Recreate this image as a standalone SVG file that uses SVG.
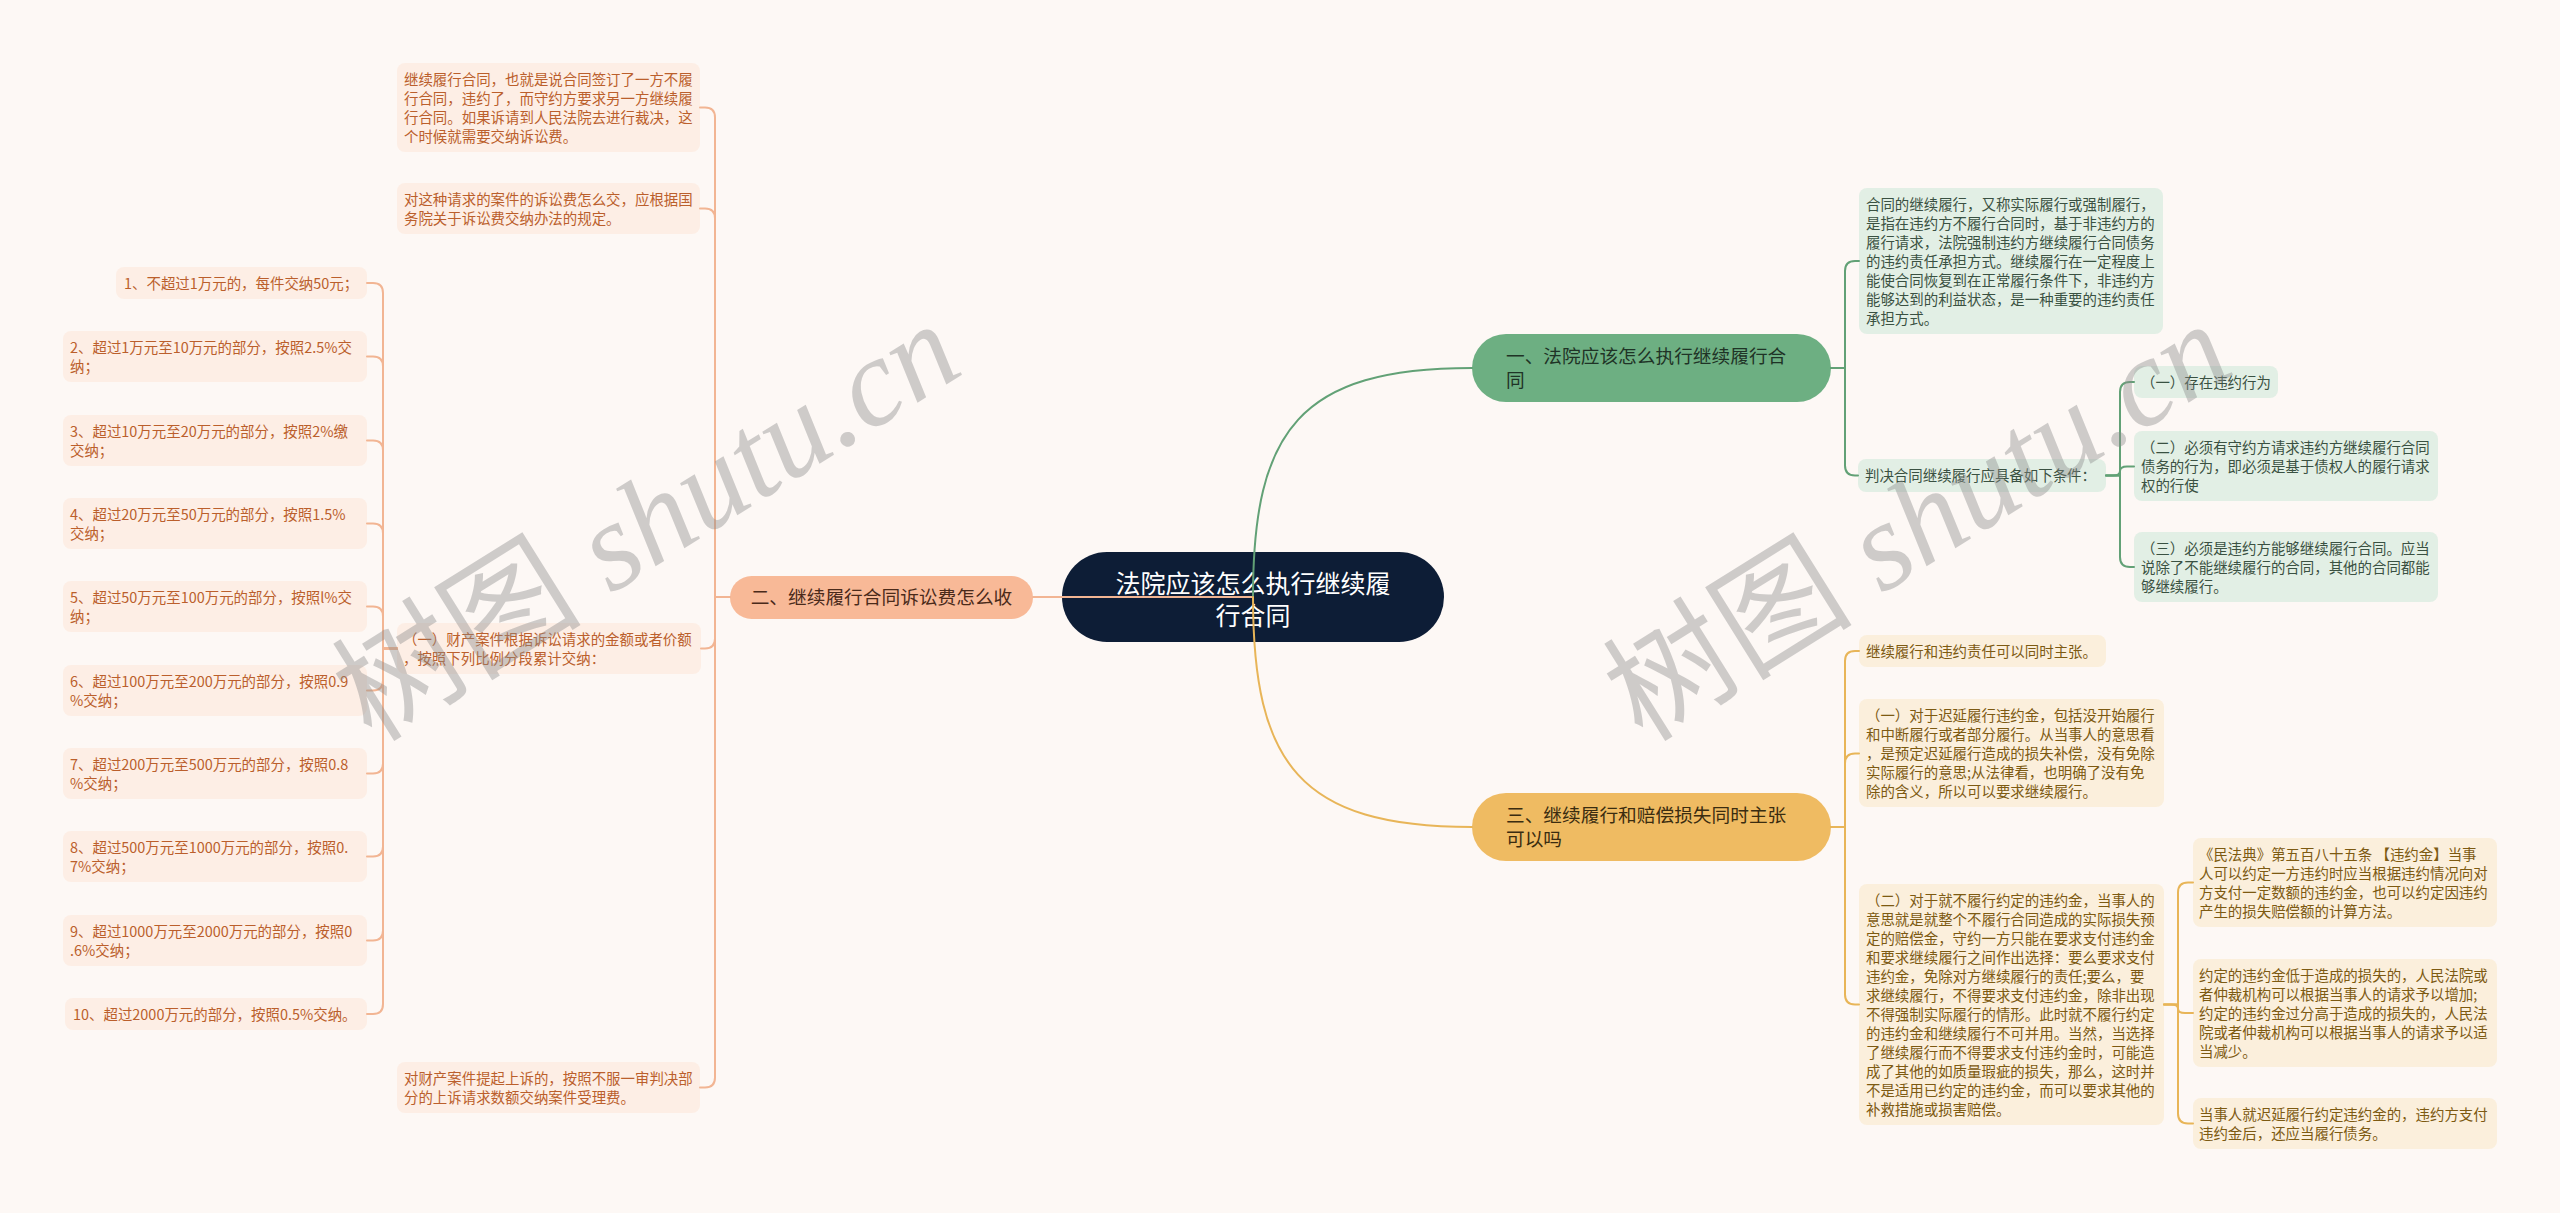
<svg xmlns="http://www.w3.org/2000/svg" width="2560" height="1213" viewBox="0 0 2560 1213">
<style>
.t{font-family:"Noto Sans CJK SC","Noto Sans",sans-serif;font-size:14.45px}
.bt{font-family:"Noto Sans CJK SC","Noto Sans",sans-serif;font-size:18.7px}
.rt{font-family:"Noto Sans CJK SC","Noto Sans",sans-serif;font-size:25px;fill:#ffffff}
.lp{fill:#fdeee5}.tp{fill:#bb5f2c}
.lg{fill:#e2efe5}.tg{fill:#3a5142}
.ly{fill:#fbefdc}.ty{fill:#7d5a12}
.c{fill:none;stroke-width:2;stroke-linecap:round}
.cp{stroke:#f2b593}.cg{stroke:#62a176}.cy{stroke:#e8b558}
.wm{font-size:125px;fill:#8a8a8a;opacity:0.4}
</style>
<rect width="2560" height="1213" fill="#fdf8f5"/>

<g id="root">
<rect x="1062" y="552" width="382" height="90" rx="45" fill="#0d1d36"/>
<text class="rt" text-anchor="middle"><tspan x="1253" y="592.5">法院应该怎么执行继续履</tspan><tspan x="1253" y="624.5">行合同</tspan></text>
</g>

<g id="b1">
<rect x="1472" y="334" width="359" height="68" rx="34" fill="#6daf82"/>
<text class="bt" fill="#1f3326"><tspan x="1506" y="363">一、法院应该怎么执行继续履行合</tspan><tspan x="1506" y="387">同</tspan></text>
</g>
<g id="b2">
<rect x="730" y="576" width="303" height="43" rx="21.5" fill="#f8b997"/>
<text class="bt" fill="#4a2a1a" text-anchor="middle" x="881.5" y="604">二、继续履行合同诉讼费怎么收</text>
</g>
<g id="b3">
<rect x="1472" y="793" width="359" height="68" rx="34" fill="#efbb62"/>
<text class="bt" fill="#3a2c10"><tspan x="1506" y="822">三、继续履行和赔偿损失同时主张</tspan><tspan x="1506" y="846">可以吗</tspan></text>
</g>

<g id="L1"><rect class="lp" x="397" y="63" width="303" height="89" rx="8"/>
<text class="t tp"><tspan x="404" y="84.5">继续履行合同，也就是说合同签订了一方不履</tspan><tspan x="404" y="103.5">行合同，违约了，而守约方要求另一方继续履</tspan><tspan x="404" y="122.5">行合同。如果诉请到人民法院去进行裁决，这</tspan><tspan x="404" y="141.5">个时候就需要交纳诉讼费。</tspan></text></g>
<g id="L2"><rect class="lp" x="397" y="183" width="303" height="51" rx="8"/>
<text class="t tp"><tspan x="404" y="204.5">对这种请求的案件的诉讼费怎么交，应根据国</tspan><tspan x="404" y="223.5">务院关于诉讼费交纳办法的规定。</tspan></text></g>
<g id="L3"><rect class="lp" x="397" y="623" width="304" height="51" rx="8"/>
<text class="t tp"><tspan x="403" y="644.5">（一）财产案件根据诉讼请求的金额或者价额</tspan><tspan x="403" y="663.5">，按照下列比例分段累计交纳：</tspan></text></g>
<g id="L4"><rect class="lp" x="397" y="1062" width="303" height="51" rx="8"/>
<text class="t tp"><tspan x="404" y="1083.5">对财产案件提起上诉的，按照不服一审判决部</tspan><tspan x="404" y="1102.5">分的上诉请求数额交纳案件受理费。</tspan></text></g>

<g id="i1"><rect class="lp" x="116" y="267" width="251" height="32" rx="8"/>
<text class="t tp" x="124" y="288.5">1、不超过1万元的，每件交纳50元；</text></g>
<g id="i2"><rect class="lp" x="63" y="331" width="304" height="51" rx="8"/>
<text class="t tp"><tspan x="70" y="352.5">2、超过1万元至10万元的部分，按照2.5%交</tspan><tspan x="70" y="371.5">纳；</tspan></text></g>
<g id="i3"><rect class="lp" x="63" y="415" width="304" height="51" rx="8"/>
<text class="t tp"><tspan x="70" y="436.5">3、超过10万元至20万元的部分，按照2%缴</tspan><tspan x="70" y="455.5">交纳；</tspan></text></g>
<g id="i4"><rect class="lp" x="63" y="498" width="304" height="51" rx="8"/>
<text class="t tp"><tspan x="70" y="519.5">4、超过20万元至50万元的部分，按照1.5%</tspan><tspan x="70" y="538.5">交纳；</tspan></text></g>
<g id="i5"><rect class="lp" x="63" y="581" width="304" height="51" rx="8"/>
<text class="t tp"><tspan x="70" y="602.5">5、超过50万元至100万元的部分，按照l%交</tspan><tspan x="70" y="621.5">纳；</tspan></text></g>
<g id="i6"><rect class="lp" x="63" y="665" width="304" height="51" rx="8"/>
<text class="t tp"><tspan x="70" y="686.5">6、超过100万元至200万元的部分，按照0.9</tspan><tspan x="70" y="705.5">%交纳；</tspan></text></g>
<g id="i7"><rect class="lp" x="63" y="748" width="304" height="51" rx="8"/>
<text class="t tp"><tspan x="70" y="769.5">7、超过200万元至500万元的部分，按照0.8</tspan><tspan x="70" y="788.5">%交纳；</tspan></text></g>
<g id="i8"><rect class="lp" x="63" y="831" width="304" height="51" rx="8"/>
<text class="t tp"><tspan x="70" y="852.5">8、超过500万元至1000万元的部分，按照0.</tspan><tspan x="70" y="871.5">7%交纳；</tspan></text></g>
<g id="i9"><rect class="lp" x="63" y="915" width="304" height="51" rx="8"/>
<text class="t tp"><tspan x="70" y="936.5">9、超过1000万元至2000万元的部分，按照0</tspan><tspan x="70" y="955.5">.6%交纳；</tspan></text></g>
<g id="i10"><rect class="lp" x="65" y="998" width="302" height="32" rx="8"/>
<text class="t tp" x="73" y="1019.5">10、超过2000万元的部分，按照0.5%交纳。</text></g>

<g id="g1"><rect class="lg" x="1859" y="188" width="304" height="146" rx="8"/>
<text class="t tg"><tspan x="1866" y="209.5">合同的继续履行，又称实际履行或强制履行，</tspan><tspan x="1866" y="228.5">是指在违约方不履行合同时，基于非违约方的</tspan><tspan x="1866" y="247.5">履行请求，法院强制违约方继续履行合同债务</tspan><tspan x="1866" y="266.5">的违约责任承担方式。继续履行在一定程度上</tspan><tspan x="1866" y="285.5">能使合同恢复到在正常履行条件下，非违约方</tspan><tspan x="1866" y="304.5">能够达到的利益状态，是一种重要的违约责任</tspan><tspan x="1866" y="323.5">承担方式。</tspan></text></g>
<g id="g2"><rect class="lg" x="1858" y="459" width="248" height="33" rx="8"/>
<text class="t tg" x="1865" y="480.5">判决合同继续履行应具备如下条件：</text></g>
<g id="g3"><rect class="lg" x="2134" y="366" width="144" height="32" rx="8"/>
<text class="t tg" x="2141" y="387.5">（一）存在违约行为</text></g>
<g id="g4"><rect class="lg" x="2134" y="431" width="304" height="70" rx="8"/>
<text class="t tg"><tspan x="2141" y="452.5">（二）必须有守约方请求违约方继续履行合同</tspan><tspan x="2141" y="471.5">债务的行为，即必须是基于债权人的履行请求</tspan><tspan x="2141" y="490.5">权的行使</tspan></text></g>
<g id="g5"><rect class="lg" x="2134" y="532" width="304" height="70" rx="8"/>
<text class="t tg"><tspan x="2141" y="553.5">（三）必须是违约方能够继续履行合同。应当</tspan><tspan x="2141" y="572.5">说除了不能继续履行的合同，其他的合同都能</tspan><tspan x="2141" y="591.5">够继续履行。</tspan></text></g>

<g id="y1"><rect class="ly" x="1859" y="635" width="247" height="32" rx="8"/>
<text class="t ty" x="1866" y="656.5">继续履行和违约责任可以同时主张。</text></g>
<g id="y2"><rect class="ly" x="1859" y="699" width="305" height="108" rx="8"/>
<text class="t ty"><tspan x="1866" y="720.5">（一）对于迟延履行违约金，包括没开始履行</tspan><tspan x="1866" y="739.5">和中断履行或者部分履行。从当事人的意思看</tspan><tspan x="1866" y="758.5">，是预定迟延履行造成的损失补偿，没有免除</tspan><tspan x="1866" y="777.5">实际履行的意思;从法律看，也明确了没有免</tspan><tspan x="1866" y="796.5">除的含义，所以可以要求继续履行。</tspan></text></g>
<g id="y3"><rect class="ly" x="1859" y="884" width="305" height="241" rx="8"/>
<text class="t ty"><tspan x="1866" y="905.5">（二）对于就不履行约定的违约金，当事人的</tspan><tspan x="1866" y="924.5">意思就是就整个不履行合同造成的实际损失预</tspan><tspan x="1866" y="943.5">定的赔偿金，守约一方只能在要求支付违约金</tspan><tspan x="1866" y="962.5">和要求继续履行之间作出选择：要么要求支付</tspan><tspan x="1866" y="981.5">违约金，免除对方继续履行的责任;要么，要</tspan><tspan x="1866" y="1000.5">求继续履行，不得要求支付违约金，除非出现</tspan><tspan x="1866" y="1019.5">不得强制实际履行的情形。此时就不履行约定</tspan><tspan x="1866" y="1038.5">的违约金和继续履行不可并用。当然，当选择</tspan><tspan x="1866" y="1057.5">了继续履行而不得要求支付违约金时，可能造</tspan><tspan x="1866" y="1076.5">成了其他的如质量瑕疵的损失，那么，这时并</tspan><tspan x="1866" y="1095.5">不是适用已约定的违约金，而可以要求其他的</tspan><tspan x="1866" y="1114.5">补救措施或损害赔偿。</tspan></text></g>
<g id="y4"><rect class="ly" x="2193" y="838" width="304" height="89" rx="8"/>
<text class="t ty"><tspan x="2199" y="859.5">《民法典》第五百八十五条 【违约金】当事</tspan><tspan x="2199" y="878.5">人可以约定一方违约时应当根据违约情况向对</tspan><tspan x="2199" y="897.5">方支付一定数额的违约金，也可以约定因违约</tspan><tspan x="2199" y="916.5">产生的损失赔偿额的计算方法。</tspan></text></g>
<g id="y5"><rect class="ly" x="2193" y="959" width="304" height="108" rx="8"/>
<text class="t ty"><tspan x="2199" y="980.5">约定的违约金低于造成的损失的，人民法院或</tspan><tspan x="2199" y="999.5">者仲裁机构可以根据当事人的请求予以增加;</tspan><tspan x="2199" y="1018.5">约定的违约金过分高于造成的损失的，人民法</tspan><tspan x="2199" y="1037.5">院或者仲裁机构可以根据当事人的请求予以适</tspan><tspan x="2199" y="1056.5">当减少。</tspan></text></g>
<g id="y6"><rect class="ly" x="2193" y="1098" width="304" height="51" rx="8"/>
<text class="t ty"><tspan x="2199" y="1119.5">当事人就迟延履行约定违约金的，违约方支付</tspan><tspan x="2199" y="1138.5">违约金后，还应当履行债务。</tspan></text></g>

<g id="connectors">
<path class="c cp" stroke-width="2.5" d="M1253,597 H1033"/>
<path class="c cg" stroke-width="2.5" d="M1253,597 C1253,430 1300,368 1472,368"/>
<path class="c cy" stroke-width="2.5" d="M1253,597 C1253,764 1300,827 1472,827"/>

<path class="c cp" d="M730,597 H715 V117.5 Q715,107.5 705,107.5 H700"/>
<path class="c cp" d="M730,597 H715 V218.5 Q715,208.5 705,208.5 H700"/>
<path class="c cp" d="M730,597 H715 V638.5 Q715,648.5 705,648.5 H701"/>
<path class="c cp" d="M730,597 H715 V1077.5 Q715,1087.5 705,1087.5 H700"/>

<path class="c cp" d="M397,648.5 H383 V293 Q383,283 373,283 H367"/>
<path class="c cp" d="M397,648.5 H383 V366.5 Q383,356.5 373,356.5 H367"/>
<path class="c cp" d="M397,648.5 H383 V450.5 Q383,440.5 373,440.5 H367"/>
<path class="c cp" d="M397,648.5 H383 V533.5 Q383,523.5 373,523.5 H367"/>
<path class="c cp" d="M397,648.5 H383 V616.5 Q383,606.5 373,606.5 H367"/>
<path class="c cp" d="M397,648.5 H383 V680.5 Q383,690.5 373,690.5 H367"/>
<path class="c cp" d="M397,648.5 H383 V763.5 Q383,773.5 373,773.5 H367"/>
<path class="c cp" d="M397,648.5 H383 V846.5 Q383,856.5 373,856.5 H367"/>
<path class="c cp" d="M397,648.5 H383 V930.5 Q383,940.5 373,940.5 H367"/>
<path class="c cp" d="M397,648.5 H383 V1004 Q383,1014 373,1014 H367"/>

<path class="c cg" d="M1831,368 H1845 V271 Q1845,261 1855,261 H1859"/>
<path class="c cg" d="M1831,368 H1845 V465.5 Q1845,475.5 1855,475.5 H1858"/>
<path class="c cg" d="M2106,475.5 H2120 V392 Q2120,382 2130,382 H2134"/>
<path class="c cg" d="M2106,475.5 H2113 Q2120,475.5 2120,471 Q2120,466.5 2127,466.5 H2134"/>
<path class="c cg" d="M2106,475.5 H2120 V557 Q2120,567 2130,567 H2134"/>

<path class="c cy" d="M1831,827 H1845 V661 Q1845,651 1855,651 H1859"/>
<path class="c cy" d="M1831,827 H1845 V763.5 Q1845,753.5 1855,753.5 H1859"/>
<path class="c cy" d="M1831,827 H1845 V994.5 Q1845,1004.5 1855,1004.5 H1859"/>
<path class="c cy" d="M2164,1004.5 H2178 V892.5 Q2178,882.5 2188,882.5 H2193"/>
<path class="c cy" d="M2164,1004.5 H2171 Q2178,1004.5 2178,1008.75 Q2178,1013 2185,1013 H2193"/>
<path class="c cy" d="M2164,1004.5 H2178 V1113.5 Q2178,1123.5 2188,1123.5 H2193"/>
</g>

<g id="watermarks">
<text class="wm" text-anchor="middle" transform="translate(647,522) rotate(-32)" y="42"><tspan font-family="Noto Sans CJK SC, sans-serif">树图</tspan><tspan font-family="Liberation Serif, serif" font-style="italic"> shutu.cn</tspan></text>
<text class="wm" text-anchor="middle" transform="translate(1918,522) rotate(-32)" y="42"><tspan font-family="Noto Sans CJK SC, sans-serif">树图</tspan><tspan font-family="Liberation Serif, serif" font-style="italic"> shutu.cn</tspan></text>
</g>
</svg>
